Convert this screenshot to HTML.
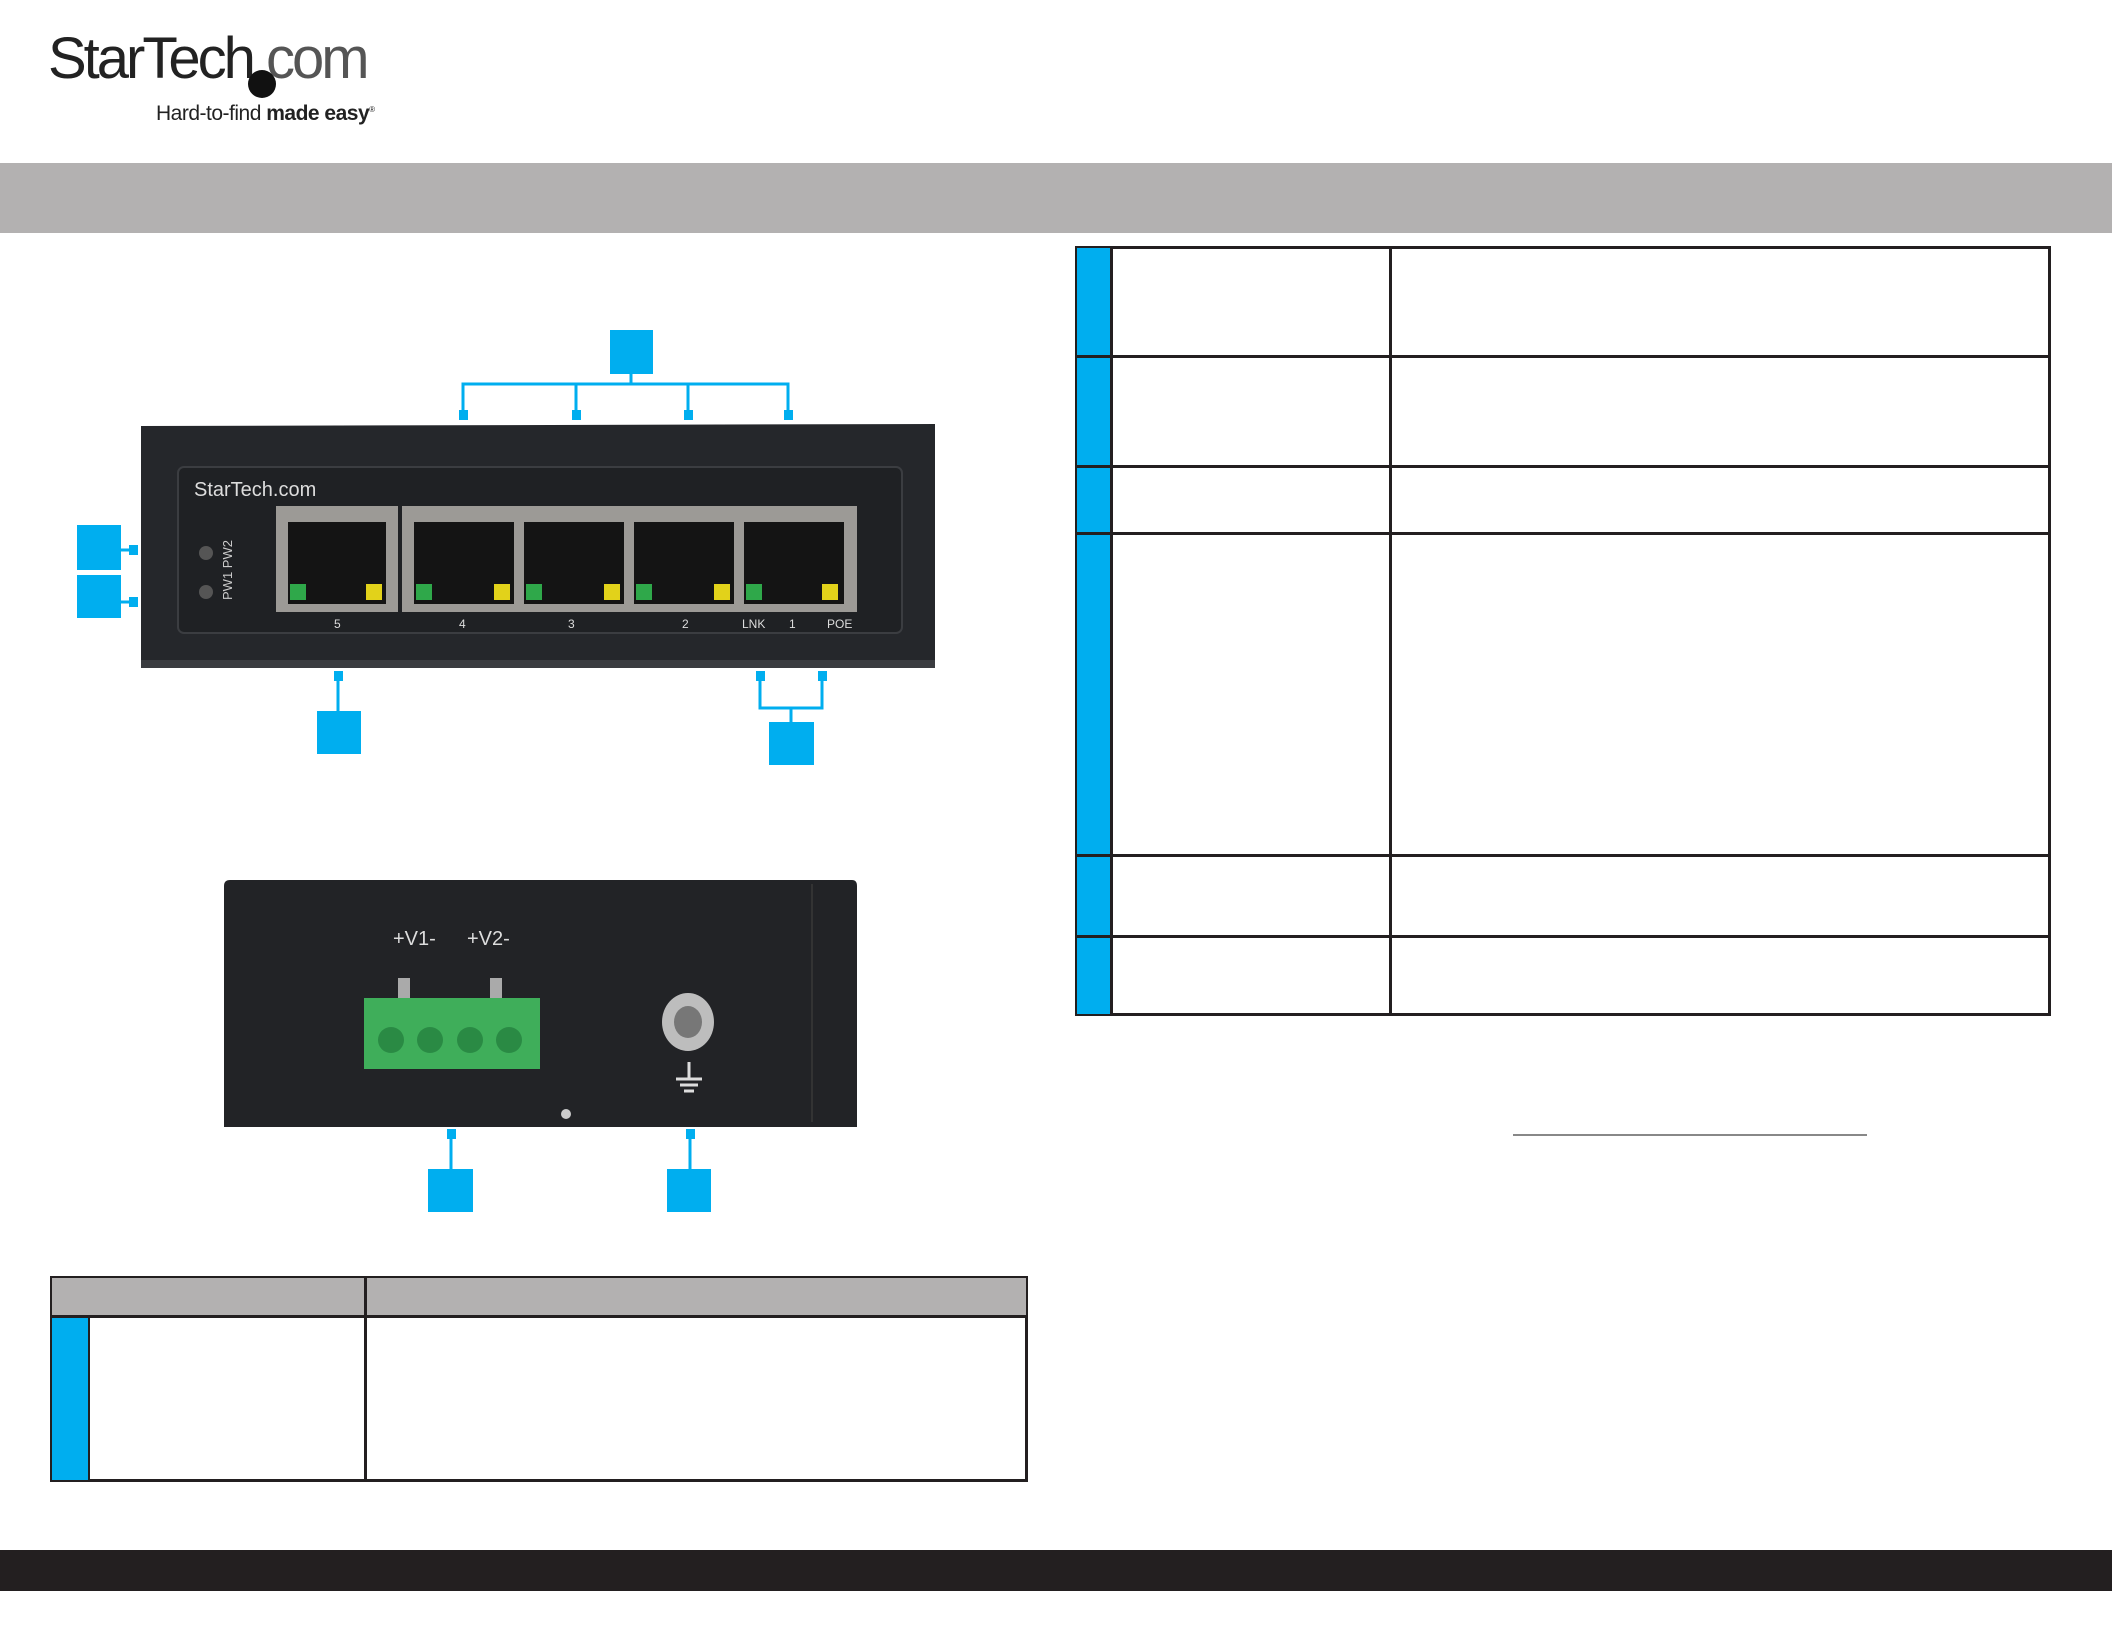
<!DOCTYPE html>
<html><head><meta charset="utf-8"><style>
*{margin:0;padding:0;box-sizing:border-box}
body{width:2112px;height:1632px;background:#fff;position:relative;overflow:hidden;font-family:"Liberation Sans",sans-serif}
.a{position:absolute}
.b{position:absolute;background:#00aeef}
</style></head><body>
<div class="a" style="left:48px;top:30px;font-size:58px;letter-spacing:-3px;color:#222;line-height:1">StarTech<span style="color:#555;font-weight:300">.com</span></div>
<div class="a" style="left:248px;top:70px;width:28px;height:28px;border-radius:50%;background:#111"></div>
<div class="a" style="left:156px;top:102px;font-size:21px;color:#222;letter-spacing:-0.5px">Hard-to-find <b>made easy</b><sup style="font-size:8px">®</sup></div>
<div class="a" style="left:0;top:163px;width:2112px;height:70px;background:#b3b1b1"></div>

<svg class="a" style="left:0;top:0" width="1060" height="1240">
<path d="M141 426 L935 424 L935 667 L141 667 Z" fill="#25272b"/>
<rect x="141" y="660" width="794" height="8" fill="#3a3c40"/>
<rect x="178" y="467" width="724" height="166" rx="6" fill="#1f2124" stroke="#3b3d41" stroke-width="2"/>
<text x="194" y="496" font-size="20" fill="#ddd" font-family="Liberation Sans">StarTech.com</text>
<circle cx="206" cy="553" r="7" fill="#555"/><circle cx="206" cy="592" r="7" fill="#555"/>
<text x="0" y="0" font-size="13" fill="#ccc" transform="translate(232 600) rotate(-90)">PW1 PW2</text>
<rect x="276" y="506" width="122" height="106" fill="#9c9a96"/>
<rect x="402" y="506" width="455" height="106" fill="#9c9a96"/>
<g fill="#141414">
<rect x="288" y="522" width="98" height="82"/><rect x="414" y="522" width="100" height="82"/><rect x="524" y="522" width="100" height="82"/><rect x="634" y="522" width="100" height="82"/><rect x="744" y="522" width="100" height="82"/>
</g>
<g fill="#2fa84a"><rect x="290" y="584" width="16" height="16"/><rect x="416" y="584" width="16" height="16"/><rect x="526" y="584" width="16" height="16"/><rect x="636" y="584" width="16" height="16"/><rect x="746" y="584" width="16" height="16"/></g>
<g fill="#e2d21a"><rect x="366" y="584" width="16" height="16"/><rect x="494" y="584" width="16" height="16"/><rect x="604" y="584" width="16" height="16"/><rect x="714" y="584" width="16" height="16"/><rect x="822" y="584" width="16" height="16"/></g>
<g font-size="12" fill="#ddd"><text x="334" y="628">5</text><text x="459" y="628">4</text><text x="568" y="628">3</text><text x="682" y="628">2</text><text x="742" y="628">LNK</text><text x="789" y="628">1</text><text x="827" y="628">POE</text></g>
<g stroke="#00aeef" stroke-width="3" fill="none">
<path d="M631 374 V384 M463 416 V384 H788 V416 M576 384 V416 M688 384 V416"/>
<path d="M121 550 H135 M121 602 H135"/>
<path d="M338 676 V711"/>
<path d="M760 676 V708 H822 V676 M791 708 V722"/>
<path d="M451 1134 V1169 M690 1134 V1169"/>
</g>
<g fill="#00aeef">
<rect x="610" y="330" width="43" height="44"/>
<rect x="459" y="410" width="9" height="10"/><rect x="572" y="410" width="9" height="10"/><rect x="684" y="410" width="9" height="10"/><rect x="784" y="410" width="9" height="10"/>
<rect x="77" y="525" width="44" height="45"/><rect x="77" y="575" width="44" height="43"/>
<rect x="129" y="545" width="9" height="10"/><rect x="129" y="597" width="9" height="10"/>
<rect x="334" y="671" width="9" height="10"/><rect x="317" y="711" width="44" height="43"/>
<rect x="756" y="671" width="9" height="10"/><rect x="818" y="671" width="9" height="10"/><rect x="769" y="722" width="45" height="43"/>
<rect x="447" y="1129" width="9" height="10"/><rect x="686" y="1129" width="9" height="10"/>
<rect x="428" y="1169" width="45" height="43"/><rect x="667" y="1169" width="44" height="43"/>
</g>
<path d="M228 880 L852 880 Q857 880 857 886 L857 1127 L224 1127 L224 886 Q224 880 230 880 Z" fill="#222326"/>
<line x1="812" y1="884" x2="812" y2="1122" stroke="#333" stroke-width="2"/>
<text x="393" y="945" font-size="20" fill="#ddd">+V1-</text><text x="467" y="945" font-size="20" fill="#ddd">+V2-</text>
<rect x="398" y="978" width="12" height="22" fill="#aaa"/><rect x="490" y="978" width="12" height="22" fill="#aaa"/>
<rect x="364" y="998" width="176" height="71" fill="#3fae5a"/>
<g fill="#2a8a44"><circle cx="391" cy="1040" r="13"/><circle cx="430" cy="1040" r="13"/><circle cx="470" cy="1040" r="13"/><circle cx="509" cy="1040" r="13"/></g>
<ellipse cx="688" cy="1022" rx="26" ry="29" fill="#bdbdbd"/><ellipse cx="688" cy="1022" rx="14" ry="16" fill="#777"/>
<g stroke="#ddd" stroke-width="3"><path d="M689 1062 V1078 M676 1079 H702 M680 1085 H698 M684 1091 H694"/></g>
<circle cx="566" cy="1114" r="5" fill="#ccc"/>
</svg>

<div class="a" style="left:1075px;top:246px;width:976px;height:770px;border:3px solid #231f20"></div>
<div class="b" style="left:1077px;top:248px;width:33px;height:766px"></div>
<div class="a" style="left:1110px;top:246px;width:3px;height:770px;background:#231f20"></div>
<div class="a" style="left:1389px;top:246px;width:3px;height:770px;background:#231f20"></div>
<div class="a" style="left:1075px;top:355px;width:976px;height:3px;background:#231f20"></div>
<div class="a" style="left:1075px;top:465px;width:976px;height:3px;background:#231f20"></div>
<div class="a" style="left:1075px;top:532px;width:976px;height:3px;background:#231f20"></div>
<div class="a" style="left:1075px;top:854px;width:976px;height:3px;background:#231f20"></div>
<div class="a" style="left:1075px;top:935px;width:976px;height:3px;background:#231f20"></div>
<div class="a" style="left:1513px;top:1134px;width:354px;height:2px;background:#888"></div>

<div class="a" style="left:50px;top:1276px;width:978px;height:206px;border:3px solid #231f20"></div>
<div class="a" style="left:52px;top:1278px;width:974px;height:38px;background:#b3b1b1"></div>
<div class="a" style="left:50px;top:1315px;width:978px;height:3px;background:#231f20"></div>
<div class="b" style="left:52px;top:1318px;width:36px;height:162px"></div>
<div class="a" style="left:88px;top:1318px;width:2px;height:162px;background:#231f20"></div>
<div class="a" style="left:364px;top:1276px;width:3px;height:206px;background:#231f20"></div>

<div class="a" style="left:0;top:1550px;width:2112px;height:41px;background:#231f20"></div>
</body></html>
